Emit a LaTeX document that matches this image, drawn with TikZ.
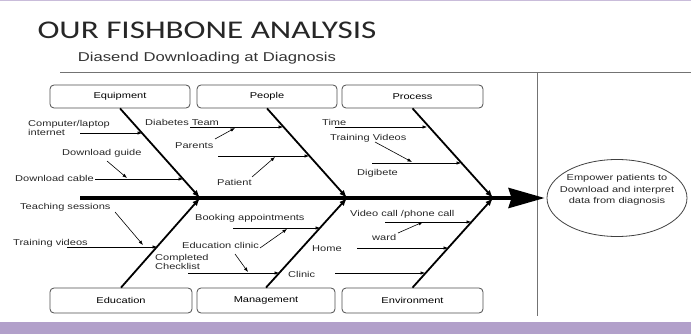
\documentclass[tikz,border=0pt]{standalone}
\usepackage{fontspec}
\usepackage{xcolor}
\usetikzlibrary{arrows.meta,shapes.geometric}
\newfontfamily\lblfont{Liberation Sans}[FakeStretch=1.3]
\newfontfamily\ttlfont{Carlito}[FakeStretch=1.3]
\definecolor{band}{RGB}{178,160,202}
\colorlet{frame line}{black!55}
\tikzset{cat/.style={draw=black!70, line width=0.8pt, rounded corners=4pt,
        minimum width=140pt, minimum height=23pt, font=\lblfont\fontsize{8.5}{9}\selectfont},
    lbl/.style={anchor=west, inner sep=0pt, align=left, text=black!85,
        font=\lblfont\fontsize{8.5}{7}\selectfont},
    bone/.style={line width=1.8pt, -{Latex[length=8pt,width=6pt]}},
    twig/.style={line width=0.6pt, -{Latex[length=4.5pt,width=3.5pt]}}}

\begin{document}
\begin{tikzpicture}[x=1pt, y=-1pt]
    \useasboundingbox (0,0) rectangle (691,334);
    % bands and frame
    \fill[band] (0,322) rectangle (691,334);
    \fill[band!70] (0,0) rectangle (691,1.5);
    \draw[frame line, line width=1pt] (60,73) -- (691,73);
    \draw[frame line, line width=1pt] (537,73) -- (537,316);

    \node[text=black!85, font=\ttlfont\fontsize{25.5}{28}\selectfont] (title) at (207,30) {OUR FISHBONE ANALYSIS};
    \node[text=black!80, font=\lblfont\fontsize{12.8}{14}\selectfont] (subtitle) at (207,58) {Diasend Downloading at Diagnosis};

    % categories
    \node[cat] (equip) at (120,96.5)   {Equipment};
    \node[cat] (people) at (267,96.5)  {People};
    \node[cat, minimum width=141pt] (process) at (412.5,96.5) {Process};
    \node[cat, minimum width=142pt, minimum height=25pt] (educ) at (121,300.5) {Education};
    \node[cat, minimum width=138pt, minimum height=25pt] (manage) at (266,300.5) {Management};
    \node[cat, minimum width=141pt, minimum height=25pt] (environ) at (412.5,300.5) {Environment};

    % goal and spine
    \node[draw=black!75, line width=0.8pt, ellipse, inner sep=0pt,
        minimum width=140pt, minimum height=77pt] (goal) at (617,198) {};
    \node[align=center, inner sep=0pt, text=black!85, font=\lblfont\fontsize{8.5}{11.5}\selectfont]
        (goaltext) at (617,190) {Empower patients to\\Download and interpret\\data from diagnosis};
    \coordinate (tail) at (80,198);
    \coordinate (j1) at (200,198);
    \coordinate (j2) at (347,198);
    \coordinate (j3) at (493,198);
    \draw[line width=4pt, -{Stealth[length=36pt,width=20pt,inset=3pt]}, shorten >=2pt] (tail) -- (goal.west);

    % main bones
    \draw[bone] (equip.south) -- (j1);
    \draw[bone] (people.south) -- (j2);
    \draw[bone] (process.south) -- (j3);
    \draw[bone] (educ.north) -- (j1);
    \draw[bone] (manage.north) -- (j2);
    \draw[bone] (environ.north) -- (j3);

    % labels
    \node[lbl] (comp) at (28,128) {Computer/laptop\\internet};
    \node[lbl] (guide) at (62,153) {Download guide};
    \node[lbl] (cable) at (15,178) {Download cable};
    \node[lbl] (team) at (145,122) {Diabetes Team};
    \node[lbl] (parents) at (175,146) {Parents};
    \node[lbl] (patient) at (217,182) {Patient};
    \node[lbl] (time) at (322,122) {Time};
    \node[lbl] (trainvid) at (330,138) {Training Videos};
    \node[lbl] (digibete) at (357,173) {Digibete};
    \node[lbl] (teach) at (20,207) {Teaching sessions};
    \node[lbl] (trainv) at (13,243) {Training videos};
    \node[lbl] (check) at (155,262) {Completed\\Checklist};
    \node[lbl] (booking) at (195,218) {Booking appointments};
    \node[lbl] (educlinic) at (182,245) {Education clinic};
    \node[lbl] (home) at (312,249) {Home};
    \node[lbl] (clinic) at (288,274) {Clinic};
    \node[lbl] (video) at (350,214) {Video call /phone call};
    \node[lbl] (ward) at (372,237) {ward};

    % equipment twigs
    \coordinate (e1a) at (80,133);  \coordinate (e1b) at (142,133);
    \coordinate (e2a) at (95,179);  \coordinate (e2b) at (183,179);
    \draw[twig] (e1a) -- (e1b);
    \draw[twig] (e2a) -- (e2b);
    \draw[twig] (107,161) -- (127,178);
    % people twigs
    \coordinate (p1a) at (190,127); \coordinate (p1b) at (283,127);
    \coordinate (p2a) at (218,156); \coordinate (p2b) at (309,156);
    \draw[twig] (p1a) -- (p1b);
    \draw[twig] (p2a) -- (p2b);
    \draw[twig] (215,139) -- (235,128);
    \draw[twig] (252,177) -- (275,157);
    % process twigs
    \coordinate (r1a) at (335,127); \coordinate (r1b) at (427,127);
    \coordinate (r2a) at (372,163); \coordinate (r2b) at (461,163);
    \draw[twig] (r1a) -- (r1b);
    \draw[twig] (r2a) -- (r2b);
    \draw[twig] (375,142) -- (412,162);
    % education twigs
    \coordinate (d1a) at (67,247);  \coordinate (d1b) at (157,247);
    \draw[twig] (d1a) -- (d1b);
    \draw[twig] (115,212) -- (143,245);
    % management twigs
    \coordinate (m1a) at (233,228); \coordinate (m1b) at (320,228);
    \coordinate (m2a) at (188,273); \coordinate (m2b) at (279,273);
    \draw[twig] (m1a) -- (m1b);
    \draw[twig] (m2a) -- (m2b);
    \draw[twig] (260,248) -- (287,229);
    \draw[twig] (235,254) -- (248,272);
    % environment twigs
    \coordinate (v1a) at (385,222); \coordinate (v1b) at (471,222);
    \coordinate (v2a) at (357,248); \coordinate (v2b) at (448,248);
    \coordinate (v3a) at (335,273); \coordinate (v3b) at (425,273);
    \draw[twig] (v1a) -- (v1b);
    \draw[twig] (v2a) -- (v2b);
    \draw[twig] (v3a) -- (v3b);
    \draw[twig] (398,233) -- (423,222);
\end{tikzpicture}
\end{document}
